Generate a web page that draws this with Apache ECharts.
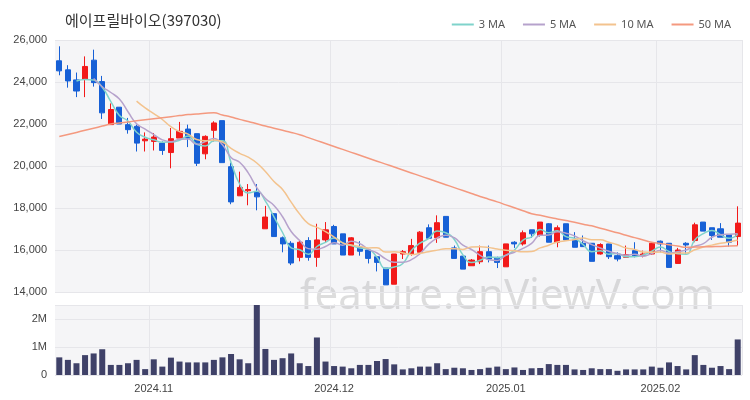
<!DOCTYPE html>
<html><head><meta charset="utf-8">
<script src="https://cdn.jsdelivr.net/npm/echarts@6/dist/echarts.min.js"></script>
<style>html,body{margin:0;padding:0;background:#fff}#c{width:750px;height:400px}</style>
</head><body><div id="c"></div>
<script>
const dates = ["2024-10-17","2024-10-18","2024-10-21","2024-10-22","2024-10-23","2024-10-24","2024-10-25","2024-10-28","2024-10-29","2024-10-30","2024-10-31",
"2024-11-01","2024-11-04","2024-11-05","2024-11-06","2024-11-07","2024-11-08","2024-11-11","2024-11-12","2024-11-13","2024-11-14","2024-11-15","2024-11-18","2024-11-19","2024-11-20","2024-11-21","2024-11-22","2024-11-25","2024-11-26","2024-11-27","2024-11-28","2024-11-29",
"2024-12-02","2024-12-03","2024-12-04","2024-12-05","2024-12-06","2024-12-09","2024-12-10","2024-12-11","2024-12-12","2024-12-13","2024-12-16","2024-12-17","2024-12-18","2024-12-19","2024-12-20","2024-12-23","2024-12-24","2024-12-26","2024-12-27","2024-12-30",
"2025-01-02","2025-01-03","2025-01-06","2025-01-07","2025-01-08","2025-01-09","2025-01-10","2025-01-13","2025-01-14","2025-01-15","2025-01-16","2025-01-17","2025-01-20","2025-01-21","2025-01-22","2025-01-23","2025-01-24","2025-01-31",
"2025-02-03","2025-02-04","2025-02-05","2025-02-06","2025-02-07","2025-02-10","2025-02-11","2025-02-12","2025-02-13","2025-02-14"];
// [open, close, low, high]
const ohlc = [
[25010,24530,24320,25700],[24580,24050,23730,24800],[24100,23570,23280,24450],[24130,24740,23280,25220],[25040,23970,23780,25540],
[24020,22530,22240,24290],[21970,22690,21970,22980],[22800,22000,22000,22800],[21970,21730,21540,22290],[21890,21090,20690,21970],
[21200,21280,20690,21600],[21170,21380,20740,21570],[21090,20740,20530,21170],[20640,21300,19890,21810],[21330,21650,21330,22100],
[21760,21330,20900,21970],[21540,20130,20000,21540],[20580,21410,20320,21460],[21700,22050,21170,22130],[22160,20160,20160,22160],
[19970,18290,18180,20160],[18580,18980,18580,19730],[18820,18880,18130,19140],[18770,18530,17890,19140],[17010,17570,17010,18100],
[17730,16640,16640,17760],[16580,16290,15890,16640],[16320,15380,15280,16420],[15650,16370,15460,16450],[16450,15650,15490,16610],
[15650,16480,15200,17250],[16480,16960,16370,17330],[17120,16290,16290,17200],[16770,15760,15760,16770],[15760,16580,15760,16610],
[16130,15940,15730,16420],[16000,15600,15360,16050],[15680,15410,14980,15680],[15140,14340,14340,15140],[14370,15810,14370,15810],
[15810,15920,15570,16000],[15810,16210,15730,16530],[15890,16850,15780,16900],[17060,16560,16530,17220],[16580,17300,16340,17650],
[17600,16610,16610,17600],[16100,15600,15600,16210],[15710,15090,15090,15710],[15250,15520,15250,15570],[15440,15920,15330,16210],
[15920,15570,15410,16210],[15650,15410,15140,15680],[15200,16290,15200,16290],[16370,16290,16100,16420],[16290,16820,16210,16930],
[16960,16770,16580,16960],[16690,17330,16640,17330],[17250,16370,16370,17280],[16370,17060,16130,17170],[17250,16480,16480,17250],
[16480,16130,16130,16850],[16320,16160,16160,16690],[16320,15460,15460,16320],[15810,16260,15780,16320],[16290,15680,15570,16290],
[15730,15570,15460,15890],[15650,15780,15650,16210],[15970,15700,15650,16370],[15730,15810,15650,15970],[15810,16320,15780,16370],
[16420,16290,15890,16450],[16320,15170,15170,16320],[15360,16000,15360,16100],[16320,16240,15810,16370],[16450,17200,16370,17300],
[17330,16900,16900,17330],[17060,16690,16480,17060],[17010,16610,16610,17280],[16740,16370,16160,16740],[16640,17280,16210,18080]];
const volume = [0.63,0.54,0.42,0.71,0.77,0.92,0.36,0.36,0.42,0.54,0.21,0.56,0.30,0.62,0.48,0.45,0.45,0.45,0.54,0.63,0.75,0.56,0.42,2.54,0.93,0.54,0.60,0.77,0.42,0.32,1.34,0.48,0.32,0.30,0.24,0.36,0.36,0.50,0.57,0.38,0.20,0.24,0.30,0.30,0.42,0.21,0.26,0.24,0.18,0.21,0.26,0.30,0.21,0.27,0.18,0.24,0.25,0.39,0.36,0.36,0.20,0.18,0.24,0.21,0.21,0.15,0.20,0.20,0.20,0.30,0.26,0.45,0.32,0.20,0.71,0.36,0.26,0.32,0.21,1.27].map(v=>v*1e6);
const ma50 = [21400,21500,21600,21700,21800,21900,22000,22050,22100,22150,22200,22250,22300,22350,22400,22450,22480,22510,22530,
22430,22330,22220,22120,22010,21900,21800,21700,21600,21490,
21350,21210,21070,20930,20790,20650,20510,20370,20230,20090,19950,19810,19670,19530,19390,19250,19110,18970,18830,18690,18550,18420,18290,
18150,18010,17870,17730,17650,17560,17480,17400,17320,17230,17150,17040,16930,16820,16700,16590,16480,16370,16310,16250,16190,16130,
16140,16150,16160,16170,16190,16200];
const monthTicks = {"2024-11-01":"2024.11","2024-12-02":"2024.12","2025-01-02":"2025.01","2025-02-03":"2025.02"};

function ma(n){return ohlc.map((d,i)=>{if(i<n-1)return null;let s=0;for(let j=i-n+1;j<=i;j++)s+=ohlc[j][1];return Math.round(s/n);});}
const UP='#f21a1a', DOWN='#1760d6';
const chart = echarts.init(document.getElementById('c'));
const lineS=(name,data,color)=>({name,type:'line',data,showSymbol:false,smooth:true,lineStyle:{width:1.5,color},itemStyle:{color},xAxisIndex:0,yAxisIndex:0,z:3});
chart.setOption({
  animation:false,
  backgroundColor:'#fff',
  title:{text:'에이프릴바이오(397030)',left:60,top:8,textStyle:{fontFamily:'Noto Sans CJK KR',fontSize:15,fontWeight:'normal',color:'#333'}},
  legend:{top:14,right:14,itemWidth:22,itemHeight:2,itemGap:18,icon:'rect',textStyle:{fontSize:11,color:'#555',fontFamily:'Noto Sans'},
    data:['3 MA','5 MA','10 MA','50 MA']},
  graphic:[{type:'text',left:300,top:276,z:0,style:{text:'feature.enViewV.com',fontSize:42,fontFamily:'Noto Sans',fill:'rgba(180,180,180,0.45)'}}],
  grid:[{left:55,right:8,top:40,height:252,backgroundColor:'#f5f5f7',show:true,borderWidth:0},
        {left:55,right:8,top:305,height:70,backgroundColor:'#f5f5f7',show:true,borderWidth:0}],
  xAxis:[{type:'category',data:dates,gridIndex:0,boundaryGap:true,axisLine:{show:false},axisTick:{show:false},axisLabel:{show:false},
          splitLine:{show:true,interval:(i,v)=>!!monthTicks[v],lineStyle:{color:'#e6e6ea'}}},
         {type:'category',data:dates,gridIndex:1,boundaryGap:true,axisLine:{show:false},axisTick:{show:false},
          axisLabel:{interval:(i,v)=>!!monthTicks[v],formatter:v=>monthTicks[v]||'',color:'#444',fontSize:11},
          splitLine:{show:true,interval:(i,v)=>!!monthTicks[v],lineStyle:{color:'#e6e6ea'}}}],
  yAxis:[{gridIndex:0,min:14000,max:26000,interval:2000,axisLabel:{color:'#444',fontSize:11,formatter:v=>v.toLocaleString('en-US')},
          splitLine:{lineStyle:{color:'#e6e6ea'}},axisLine:{show:false}},
         {gridIndex:1,min:0,max:2500000,interval:1000000,axisLabel:{color:'#444',fontSize:11,showMaxLabel:false,formatter:v=>v===0?'0':(v/1e6)+'M'},
          splitLine:{lineStyle:{color:'#e6e6ea'}},axisLine:{show:false}}],
  series:[
    {type:'candlestick',data:ohlc,xAxisIndex:0,yAxisIndex:0,barWidth:'65%',z:2,
      itemStyle:{color:UP,color0:DOWN,borderColor:UP,borderColor0:DOWN}},
    lineS('3 MA',ma(3),'#7fd3cb'),
    lineS('5 MA',ma(5),'#b6a2cc'),
    lineS('10 MA',ma(10),'#f3c38e'),
    lineS('50 MA',ma50,'#f4997f'),
    {type:'bar',data:volume,xAxisIndex:1,yAxisIndex:1,barWidth:'70%',itemStyle:{color:'#3f4168'}}
  ]
});
</script></body></html>
